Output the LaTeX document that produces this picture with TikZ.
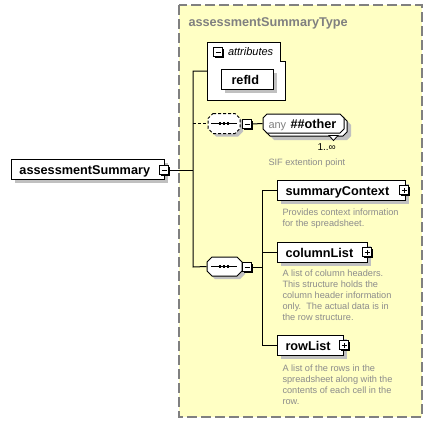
\documentclass[tikz,border=0pt]{standalone}
\usepackage{fontspec}
\setmainfont{Liberation Sans}
\usetikzlibrary{shadows}
\definecolor{bgyel}{HTML}{FFFFC4}
\definecolor{shd}{HTML}{C0C0C0}
\definecolor{tgray}{HTML}{808080}
\definecolor{dgray}{HTML}{8C8C8C}
% octagon: options, x1, y1, x2, y2, chamfer
\newcommand{\octo}[6]{\path[#1] ({#2+#6},#3) -- ({#4-#6},#3) -- (#4,{#3+#6}) -- (#4,{#5-#6}) -- ({#4-#6},#5) -- ({#2+#6},#5) -- (#2,{#5-#6}) -- (#2,{#3+#6}) -- cycle;}
% sequence symbol: centre x, y
\newcommand{\seqsym}[2]{%
  \draw[line width=1pt] ({#1-13},#2) -- ({#1+13},#2);
  \fill ({#1-5.2},{#2-1.4}) rectangle ++(2.6,2.8);
  \fill ({#1-1.3},{#2-1.4}) rectangle ++(2.6,2.8);
  \fill ({#1+2.6},{#2-1.4}) rectangle ++(2.6,2.8);}
\begin{document}
\begin{tikzpicture}[x=1pt,y=-1pt,line width=1pt,
  elbox/.style={draw=black,fill=white,inner sep=0,minimum height=20pt,
    general shadow={fill=shd,shadow xshift=4pt,shadow yshift=-4pt}},
  lbl/.style={anchor=base west,inner sep=0,font=\bfseries\fontsize{12.7}{14}\selectfont},
  desc/.style={anchor=base west,inner sep=0,text=dgray,font=\fontsize{9.2}{11}\selectfont},
  pmbox/.style={draw=black,fill=white,inner sep=0,minimum size=9pt,line width=1pt,
    general shadow={fill=black,shadow xshift=1pt,shadow yshift=-1pt}},
  minusbox/.style={pmbox,path picture={\draw[line width=1pt]
    ([xshift=2pt]path picture bounding box.west) -- ([xshift=-2pt]path picture bounding box.east);}},
  plusbox/.style={pmbox,path picture={\draw[line width=1pt]
    ([xshift=2pt]path picture bounding box.west) -- ([xshift=-2pt]path picture bounding box.east)
    ([yshift=2pt]path picture bounding box.south) -- ([yshift=-2pt]path picture bounding box.north);}},
  anchorbox/.style={inner sep=0,draw=none},
  dsh/.style={dash pattern=on 3pt off 2pt}]
\useasboundingbox (0,0) rectangle (433,423);
% type container
\draw[draw=tgray,fill=bgyel,line width=1.2pt,dash pattern=on 10pt off 4pt] (179,5) rectangle (422,417);
\node[anchor=base west,inner sep=0,text=tgray,font=\bfseries\fontsize{12.7}{14}\selectfont] (title) at (188,26) {assessmentSummaryType};
% attributes
\draw[fill=white] (207,42) -- (280,42) -- (280,61) -- (285,61) -- (285,100) -- (207,100) -- cycle;
\coordinate (attrw) at (207,71);
\node[minusbox] (attm) at (218,52) {};
\node[anchor=base west,inner sep=0,font=\itshape\fontsize{11}{13}\selectfont] (attl) at (227.5,55.5) {attributes};
\node[elbox,minimum width=52pt] (refid) at (247,79) {};
\node[lbl] (refidl) at (231,84) {refId};
% root element
\node[elbox,minimum width=153pt] (root) at (87.5,169) {};
\node[lbl] (rootl) at (19,174) {assessmentSummary};
\node[minusbox] (rootm) at (164,170) {};
\coordinate (jmid) at (193,170);
\coordinate (jtop) at (193,71);
\coordinate (jbot) at (193,267);
\coordinate (jany) at (193,123.5);
% any compositor
\octo{fill=shd}{211}{116.5}{243}{136.5}{5}
\octo{draw,dsh,fill=white}{208}{113.5}{240}{133.5}{5}
\node[anchorbox,minimum width=32pt,minimum height=20pt] (anyc) at (224,123.5) {};
\seqsym{224}{123.5}
\node[minusbox] (anym) at (247,124) {};
% any ##other
\octo{fill=shd}{270}{121}{351}{140}{4}
\octo{draw,fill=white}{266}{117}{347}{136}{4}
\octo{draw,fill=white}{263}{114}{344}{133}{4}
\draw[fill=white,line width=0.8pt] (329,135.5) -- (338,135.5) -- (333.5,140.5) -- cycle;
\node[anchorbox,minimum width=81pt,minimum height=19pt] (other) at (303.5,123.5) {};
\node[anchor=base west,inner sep=0,text=tgray,font=\fontsize{11}{13}\selectfont] (anyl) at (268,128) {any};
\node[lbl] (otherl) at (290,128) {\#\#other};
\node[anchor=base west,inner sep=0,font=\fontsize{10}{12}\selectfont] (mult) at (317,150) {1..∞};
\node[desc] (otherd) at (268,165) {SIF extention point};
% sequence compositor
\octo{fill=shd}{210}{260}{245}{279}{5}
\octo{draw,fill=white}{207}{257}{242}{276}{5}
\node[anchorbox,minimum width=35pt,minimum height=19pt] (seqc) at (224.5,266.5) {};
\seqsym{224}{266.5}
\node[minusbox] (seqm) at (247,267) {};
\coordinate (jst) at (262,190);
\coordinate (jsm) at (262,267);
\coordinate (jsc) at (262,252);
\coordinate (jsb) at (262,345);
% children
\node[elbox,minimum width=128pt] (sc) at (341,190) {};
\node[lbl] (scl) at (285,195) {summaryContext};
\node[plusbox] (scp) at (404,190) {};
\node[desc] (scd) at (282,215.5) {\parbox[t]{140pt}{\raggedright Provides context information\\for the spreadsheet.}};
\node[elbox,minimum width=90pt] (cl) at (322,252) {};
\node[lbl] (cll) at (285,257) {columnList};
\node[plusbox] (clp) at (367,252) {};
\node[desc] (cld) at (282,276) {\parbox[t]{140pt}{\raggedright A list of column headers.\\This structure holds the\\column header information\\only.\ \ The actual data is in\\the row structure.}};
\node[elbox,minimum width=66pt] (rl) at (310,345) {};
\node[lbl] (rll) at (285,350) {rowList};
\node[plusbox] (rlp) at (344,345) {};
\node[desc] (rld) at (282,371.5) {\parbox[t]{140pt}{\raggedright A list of the rows in the\\spreadsheet along with the\\contents of each cell in the\\row.}};
% connectors
\draw (rootm.east) -- (jmid);
\draw (attrw) -- (jtop) -- (jbot) -- (seqc.west);
\draw[dsh] (jany) -- (anyc.west);
\draw (anym.east) -- (other.west);
\draw (seqm.east) -- (jsm);
\draw (jst) -- (jsb);
\draw (jst) -- (sc.west);
\draw (jsc) -- (cl.west);
\draw (jsb) -- (rl.west);
\end{tikzpicture}
\end{document}
